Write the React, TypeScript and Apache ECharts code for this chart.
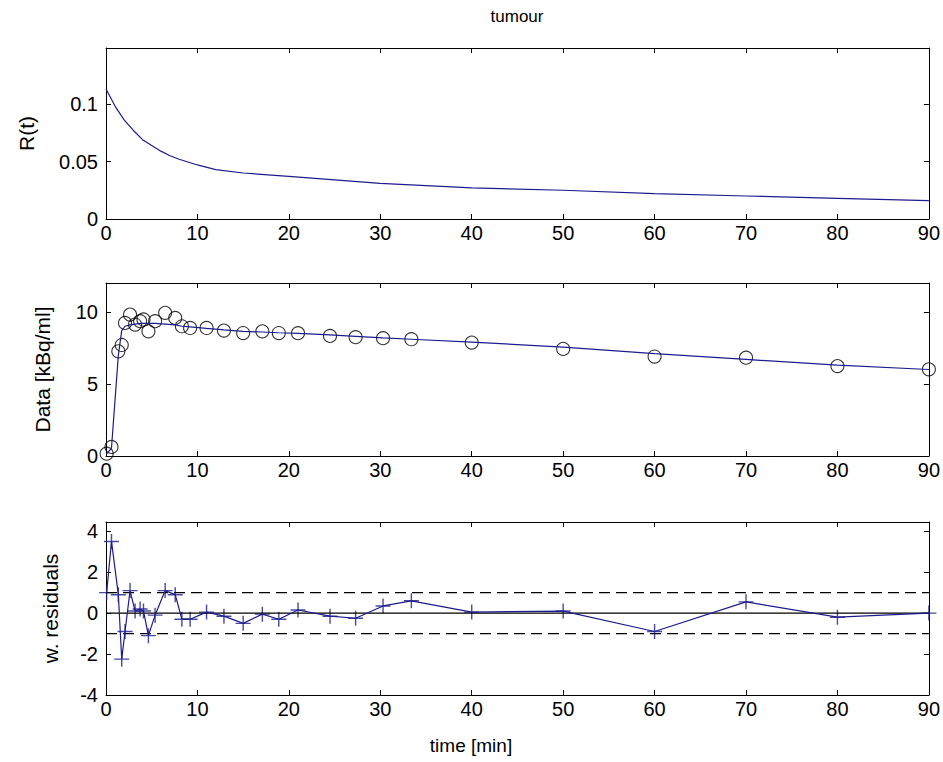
import React, { useEffect, useRef } from "react";
import * as echarts from "echarts";

// ---- data ----
const rTimes = [0, 1, 2, 3, 4, 5, 6, 7, 8, 10, 12, 15, 20, 25, 30, 40, 50, 60, 70, 80, 90];
const rValues = [0.113, 0.098, 0.086, 0.077, 0.069, 0.064, 0.059, 0.055, 0.052, 0.047, 0.043, 0.040, 0.037, 0.034, 0.031, 0.027, 0.025, 0.022, 0.020, 0.018, 0.016];

const frameTimes = [0.07, 0.6, 1.35, 1.72, 2.08, 2.63, 3.18, 3.73, 4.1, 4.64, 5.37, 6.47, 7.57, 8.3, 9.2, 11.0, 12.9, 15.0, 17.1, 18.9, 21.0, 24.5, 27.3, 30.3, 33.4, 40, 50, 60, 70, 80, 90];
const dataValues = [0.16, 0.63, 7.26, 7.7, 9.23, 9.81, 9.12, 9.35, 9.47, 8.65, 9.35, 9.93, 9.58, 9.0, 8.88, 8.88, 8.7, 8.53, 8.65, 8.53, 8.52, 8.33, 8.24, 8.17, 8.1, 7.87, 7.43, 6.9, 6.82, 6.24, 6.01];
const modelValues = [0.15, 0.55, 7.0, 8.7, 9.0, 9.1, 9.15, 9.2, 9.2, 9.2, 9.2, 9.15, 9.1, 9.0, 8.95, 8.85, 8.75, 8.65, 8.6, 8.55, 8.5, 8.4, 8.3, 8.2, 8.1, 7.9, 7.55, 7.1, 6.7, 6.3, 6.0];
const residualValues = [1.0, 3.5, 0.9, -2.25, -0.9, 1.1, 0.1, 0.2, 0.1, -1.1, -0.1, 1.1, 0.9, -0.3, -0.3, 0.05, -0.15, -0.5, -0.05, -0.3, 0.15, -0.15, -0.25, 0.35, 0.6, 0.05, 0.1, -0.9, 0.55, -0.2, 0.0];

const refLevels = [1, 0, -1];
const titleText = "tumour";
const yNames = ["R(t)", "Data [kBq/ml]", "w. residuals"];
const xName = "time [min]";

const NAVY = "#1c1c8c";
const FONT = "'Liberation Sans', Arial, sans-serif";

export default function App() {
  const ref = useRef<HTMLDivElement>(null);
  useEffect(() => {
    if (!ref.current) return;
    const chart = echarts.init(ref.current, null, { renderer: "svg" });

    const grids = [
      { left: 106, right: 14, top: 48, height: 171 },
      { left: 106, right: 14, top: 283, height: 173 },
      { left: 106, right: 14, top: 522, height: 173 },
    ];
    const yCfg = [
      { min: 0, max: 0.1487, interval: 0.05, fmt: (v: number) => (v === 0 ? "0" : String(Math.round(v * 100) / 100)) },
      { min: 0, max: 12, interval: 5, fmt: (v: number) => String(v) },
      { min: -4, max: 4.45, interval: 2, fmt: (v: number) => String(v) },
    ];

    const axisLine = { show: true, onZero: false, lineStyle: { color: "#000", width: 1 } };
    const tick = { show: true, inside: true, length: 5, lineStyle: { color: "#000", width: 1 } };
    const labelStyle = { color: "#000", fontFamily: FONT, fontSize: 20 };

    const xAxis: any[] = [];
    const yAxis: any[] = [];
    grids.forEach((_, i) => {
      xAxis.push({
        type: "value", gridIndex: i, min: 0, max: 90, interval: 10, position: "bottom",
        axisLine, axisTick: tick, splitLine: { show: false },
        axisLabel: { ...labelStyle, margin: 4 },
      });
      xAxis.push({
        type: "value", gridIndex: i, min: 0, max: 90, interval: 10, position: "top",
        axisLine, axisTick: tick, splitLine: { show: false }, axisLabel: { show: false },
      });
      const c = yCfg[i];
      const isMult = (v: number) => Math.abs(v / c.interval - Math.round(v / c.interval)) < 1e-6;
      yAxis.push({
        type: "value", gridIndex: i, min: c.min, max: c.max, interval: c.interval, position: "left",
        axisLine, axisTick: tick, splitLine: { show: false },
        axisLabel: { ...labelStyle, margin: 8, formatter: (v: number) => (isMult(v) ? c.fmt(v) : "") },
      });
      yAxis.push({
        type: "value", gridIndex: i, min: c.min, max: c.max, interval: c.interval, position: "right",
        axisLine, axisTick: tick, splitLine: { show: false }, axisLabel: { show: false },
      });
    });

    const zip = (xs: number[], ys: number[]) => xs.map((x, k) => [x, ys[k]]);
    const plusPath = "path://M0,5L10,5M5,0L5,10";

    const series: any[] = [
      {
        type: "line", xAxisIndex: 0, yAxisIndex: 0, data: zip(rTimes, rValues),
        showSymbol: false, lineStyle: { color: NAVY, width: 1.2 },
      },
      {
        type: "line", xAxisIndex: 2, yAxisIndex: 2, data: zip(frameTimes, modelValues),
        showSymbol: false, lineStyle: { color: NAVY, width: 1.2 },
      },
      {
        type: "scatter", xAxisIndex: 2, yAxisIndex: 2, data: zip(frameTimes, dataValues),
        symbol: "circle", symbolSize: 13,
        itemStyle: { color: "transparent", borderColor: "#000", borderWidth: 1.1 },
      },
      ...refLevels.map((lv) => ({
        type: "line", xAxisIndex: 4, yAxisIndex: 4, data: [[0, lv], [90, lv]],
        showSymbol: false,
        lineStyle: { color: "#000", width: 1.2, type: lv === 0 ? "solid" : [11, 6] },
      })),
      {
        type: "line", xAxisIndex: 4, yAxisIndex: 4, data: zip(frameTimes, residualValues),
        showSymbol: false, lineStyle: { color: NAVY, width: 1.2 },
      },
      {
        type: "scatter", xAxisIndex: 4, yAxisIndex: 4, data: zip(frameTimes, residualValues),
        symbol: plusPath, symbolSize: 15,
        itemStyle: { color: "transparent", borderColor: NAVY, borderWidth: 1.4 },
      },
    ];

    const yLabelX = [26, 42, 50];
    const graphic: any[] = [
      {
        type: "text", x: 517, y: 16,
        style: { text: titleText, fill: "#000", font: `17px ${FONT}`, textAlign: "center", textVerticalAlign: "middle" },
      },
      {
        type: "text", x: 471, y: 745,
        style: { text: xName, fill: "#000", font: `19px ${FONT}`, textAlign: "center", textVerticalAlign: "middle" },
      },
      ...grids.map((g, i) => ({
        type: "text", x: yLabelX[i], y: g.top + g.height / 2, rotation: Math.PI / 2,
        style: { text: yNames[i], fill: "#000", font: `21px ${FONT}`, textAlign: "center", textVerticalAlign: "middle" },
      })),
    ];

    chart.setOption({
      animation: false,
      backgroundColor: "#fff",
      grid: grids,
      xAxis, yAxis, series, graphic,
    });
    return () => chart.dispose();
  }, []);
  return <div ref={ref} style={{ position: "fixed", left: 0, top: 0, width: 943, height: 762 }} />;
}
